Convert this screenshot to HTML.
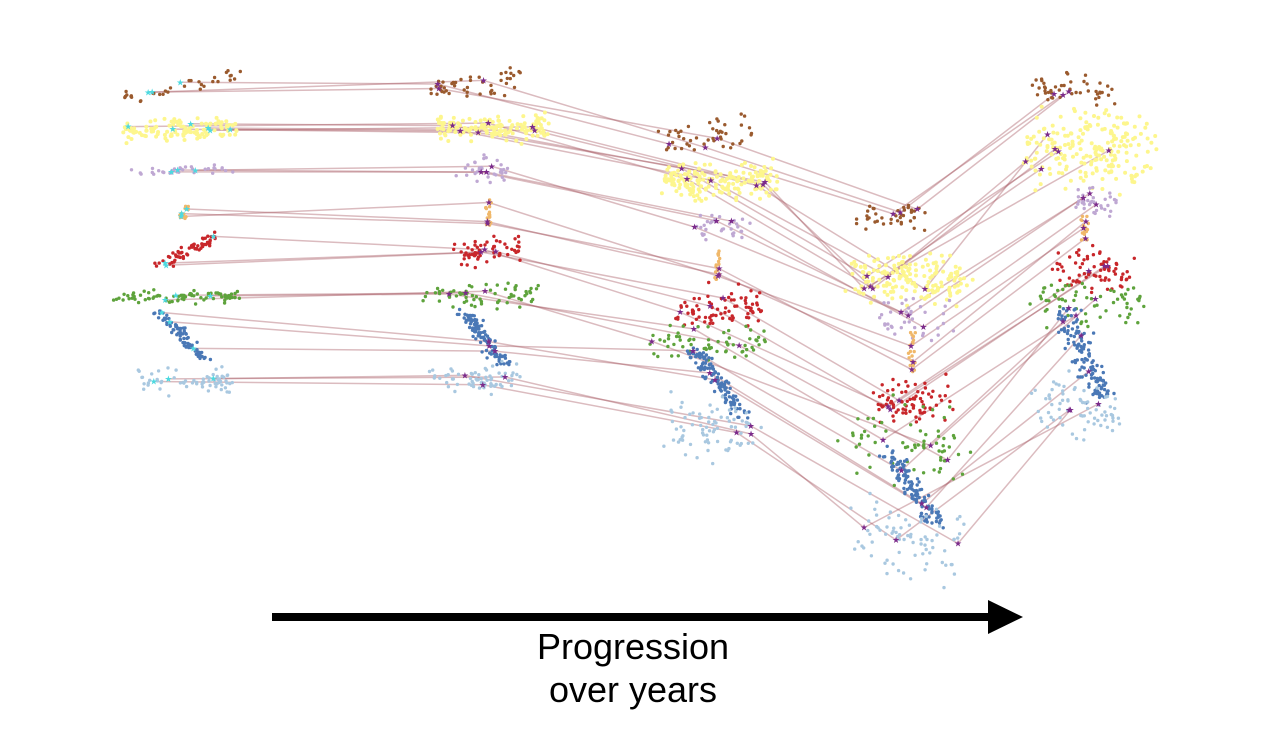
<!DOCTYPE html>
<html><head><meta charset="utf-8"><style>
html,body{margin:0;padding:0;background:#fff;width:1269px;height:747px;overflow:hidden}
svg{position:absolute;left:0;top:0}
</style></head><body>
<svg id="s" width="1269" height="747" xmlns="http://www.w3.org/2000/svg">
<g id="lines"></g><g id="dots"></g><g id="stars"></g>
<line x1="272" y1="617" x2="992" y2="617" stroke="#000" stroke-width="8"/>
<polygon points="988,600 1023,617 988,634" fill="#000"/>
<text x="633" y="659" font-family="Liberation Sans, sans-serif" font-size="36" text-anchor="middle">Progression</text>
<text x="633" y="702" font-family="Liberation Sans, sans-serif" font-size="36" text-anchor="middle">over years</text>
</svg>
<script>
var seed=7;function r(){seed=(seed*16807)%2147483647;return (seed-1)/2147483646;}
function g(){return (r()+r()+r()-1.5)/1.5;}
var colors={brown:"#9a5a2e",yellow:"#fdf68d",lav:"#bfa8d3",orange:"#f0b86a",red:"#c8262a",green:"#5ea33c",blue:"#4a78b6",lb:"#a9c8e0"};
var cols=[
{brown:[125,97,240,75,4,25],yellow:[125,133,240,126,6,90],lav:[130,172,235,168,3,25],orange:[180,220,188,204,4,12],red:[155,268,215,236,5,45],green:[115,298,240,296,4,60],blue:[160,312,205,360,5,60],lb:[140,380,230,382,8,50]},
{brown:[430,88,520,80,10,35],yellow:[435,128,545,128,8,110],lav:[455,170,510,172,8,25],orange:[488,198,488,225,4,14],red:[455,254,520,250,9,45],green:[425,296,540,294,9,50],blue:[465,312,505,365,6,80],lb:[430,378,520,382,10,50]},
{brown:[662,138,750,132,12,35],yellow:[665,180,775,182,13,140],lav:[695,225,745,228,8,25],orange:[718,246,718,280,4,14],red:[680,310,760,308,14,60],green:[655,342,770,346,13,50],blue:[695,350,745,420,7,90],lb:[670,425,750,430,20,60]},
{brown:[855,220,925,216,10,30],yellow:[855,275,965,280,15,130],lav:[880,318,950,322,14,30],orange:[912,332,912,375,5,14],red:[875,400,945,400,15,60],green:[850,440,960,445,25,50],blue:[890,452,935,525,7,90],lb:[860,535,960,540,25,60]},
{brown:[1035,92,1120,90,10,35],yellow:[1030,150,1150,150,25,160],lav:[1075,198,1115,202,10,25],orange:[1085,214,1085,240,5,14],red:[1055,270,1130,270,14,55],green:[1040,305,1140,305,17,50],blue:[1065,310,1105,400,9,100],lb:[1040,405,1120,410,20,55]}];
var order=["brown","yellow","lav","orange","red","green","blue","lb"];
var ns="http://www.w3.org/2000/svg";
var D=document.getElementById("dots"),L=document.getElementById("lines"),S=document.getElementById("stars");
var starsPos=[];
cols.forEach(function(c,ci){
 var sp=[];
 order.forEach(function(k){
  var p=c[k];
  var diag=(k=="blue"||k=="orange");
  var sx=k=="blue"?p[4]*2.2:(diag?p[4]*1.2:p[4]*1.0), sy=diag?p[4]*1.2:p[4]*2.2;
  for(var i=0;i<p[5]*1.3;i++){var t=r();var x=p[0]+(p[2]-p[0])*t+g()*sx;var y=p[1]+(p[3]-p[1])*t+g()*sy;
   var e=document.createElementNS(ns,"circle");e.setAttribute("cx",x.toFixed(1));e.setAttribute("cy",y.toFixed(1));e.setAttribute("r",k=="yellow"?2:1.7);e.setAttribute("fill",colors[k]);D.appendChild(e);}
  var ns2=k=="yellow"?6:3;
  for(var j=0;j<ns2;j++){var t=r();sp.push([p[0]+(p[2]-p[0])*t+g()*sx*0.6,p[1]+(p[3]-p[1])*t+g()*sy*0.6]);}
 });
 starsPos.push(sp);
});
for(var ci=0;ci<4;ci++){var a=starsPos[ci],b=starsPos[ci+1];
 for(var j=0;j<a.length;j++){var e=document.createElementNS(ns,"line");e.setAttribute("x1",a[j][0]);e.setAttribute("y1",a[j][1]);e.setAttribute("x2",b[j][0]);e.setAttribute("y2",b[j][1]);e.setAttribute("stroke","#a5545f");e.setAttribute("stroke-opacity","0.4");e.setAttribute("stroke-width","1.5");L.appendChild(e);}}
starsPos.forEach(function(sp,ci){sp.forEach(function(p){var e=document.createElementNS(ns,"text");e.setAttribute("x",p[0]);e.setAttribute("y",p[1]+3);e.setAttribute("font-size","9");e.setAttribute("text-anchor","middle");e.setAttribute("fill",ci==0?"#4dd9e0":"#7b2a8a");e.textContent="\u2605";S.appendChild(e);});});
</script>
</body></html>
